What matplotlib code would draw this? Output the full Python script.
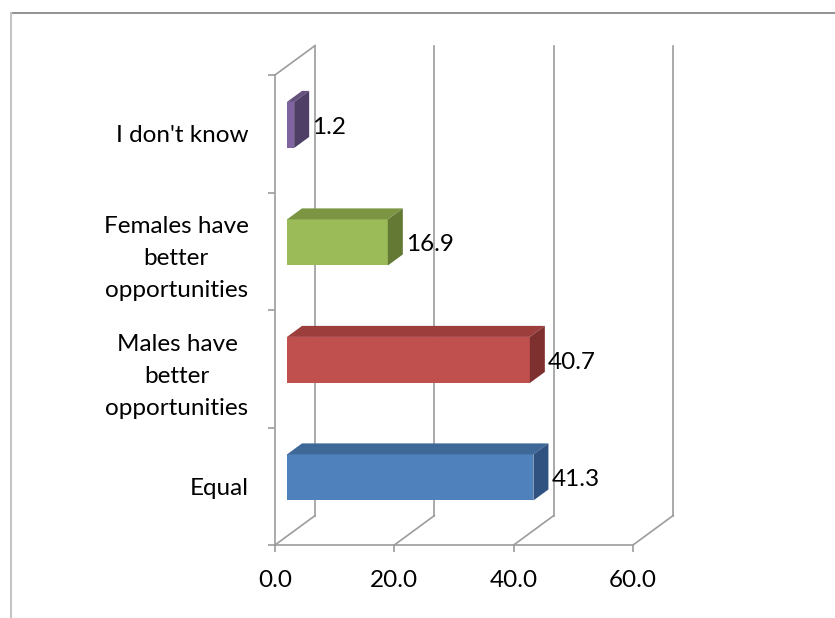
import matplotlib.pyplot as plt
from matplotlib.patches import Polygon
from matplotlib.lines import Line2D

plt.rcParams['font.family'] = ['Lato', 'DejaVu Sans']

categories = ["Equal", "Males have\nbetter\nopportunities",
              "Females have\nbetter\nopportunities", "I don't know"]
values = [41.3, 40.7, 16.9, 1.2]
value_ticks = [0, 20, 40, 60]
value_tick_labels = ["0.0", "20.0", "40.0", "60.0"]

# face colours per bar: front, top, side
front_colors = ['#4F81BD', '#C0504D', '#9BBB59', '#8064A2']
top_colors = ['#3E6898', '#9C3F3C', '#7B9542', '#66507F']
side_colors = ['#2F5281', '#7E302E', '#637934', '#4F3F66']

GRID = '#9C9C9C'
FS = 17.5

# depth of the fake 3d box, in data units
DX = 40 / 358 * 60
DY = 0.25
f0, f1 = 0.30, 0.675
half_h = 0.196

fig = plt.figure(figsize=(8.35, 6.18), dpi=100)
ax = fig.add_axes([275 / 835, 73 / 618, 358 / 835, 470 / 618])
ax.set_xlim(0, 60)
ax.set_ylim(0, 4)

for s in ['top', 'right']:
    ax.spines[s].set_visible(False)
for s in ['left', 'bottom']:
    ax.spines[s].set_color(GRID)
    ax.spines[s].set_linewidth(1.2)

# back wall gridlines and floor diagonals
for v in value_ticks:
    ax.add_line(Line2D([v + DX, v + DX], [DY, 4 + DY], color=GRID, lw=1.2, clip_on=False, zorder=1))
    ax.add_line(Line2D([v, v + DX], [0, DY], color=GRID, lw=1.2, clip_on=False, zorder=1))
ax.add_line(Line2D([0, DX], [4, 4 + DY], color=GRID, lw=1.2, clip_on=False, zorder=1))

# bars drawn as three faces each
for i, v in enumerate(values):
    x0 = f0 * DX
    x1 = v + f0 * DX
    yc = i + 0.5 + f0 * DY
    y0, y1 = yc - half_h, yc + half_h
    ddx = (f1 - f0) * DX
    ddy = (f1 - f0) * DY
    front = Polygon([(x0, y0), (x1, y0), (x1, y1), (x0, y1)], closed=True,
                    fc=front_colors[i], ec='none', zorder=3, clip_on=False)
    top = Polygon([(x0, y1), (x1, y1), (x1 + ddx, y1 + ddy), (x0 + ddx, y1 + ddy)], closed=True,
                  fc=top_colors[i], ec='none', zorder=3, clip_on=False)
    side = Polygon([(x1, y0), (x1 + ddx, y0 + ddy), (x1 + ddx, y1 + ddy), (x1, y1)], closed=True,
                   fc=side_colors[i], ec='none', zorder=3, clip_on=False)
    for p in (front, top, side):
        ax.add_patch(p)
    ax.text(x1 + ddx + 0.5, yc - 0.02, f"{v:.1f}", fontsize=FS, va='center', ha='left', zorder=4)

ax.set_xticks(value_ticks)
ax.set_xticklabels(value_tick_labels, fontsize=FS)
ax.set_yticks([0, 1, 2, 3, 4])
ax.set_yticklabels([])
ax.set_yticks([i + 0.5 for i in range(len(categories))], minor=True)
ax.set_yticklabels(categories, minor=True, fontsize=FS)
ax.tick_params(axis='both', which='major', direction='out', length=5, width=1.2, color=GRID)
ax.tick_params(axis='x', pad=13)
ax.tick_params(axis='y', which='minor', length=0, pad=19)
for lbl in ax.get_yticklabels(minor=True):
    lbl.set_multialignment('center')
    lbl.set_linespacing(1.65)

# chart border
fig.add_artist(Line2D([11 / 835, 1], [1 - 13 / 618] * 2, color='#7F7F7F', lw=1.2))
fig.add_artist(Line2D([11 / 835] * 2, [0, 1 - 13 / 618], color='#C4C4C4', lw=1.5))

fig.savefig('out.png', dpi=100)
